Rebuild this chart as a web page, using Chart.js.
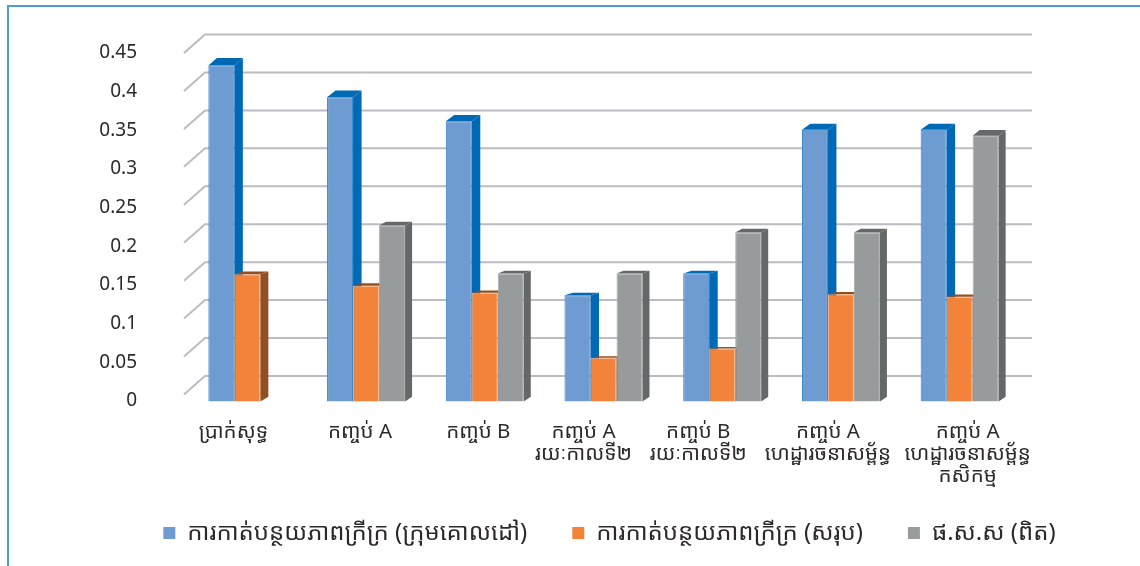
<!DOCTYPE html>
<html>
<head>
<meta charset="utf-8">
<script src="https://cdn.jsdelivr.net/npm/chart.js@4"></script>
<style>
  html, body { margin: 0; padding: 0; background: #fff; }
  #box { width: 1140px; height: 566px; }
</style>
</head>
<body>
<div id="box"><canvas id="chart" width="1140" height="566"></canvas></div>
<script>
const categories = [
    'ប្រាក់សុទ្ធ',
    'កញ្ចប់ A',
    'កញ្ចប់ B',
    ['កញ្ចប់ A', 'រយៈកាលទី២'],
    ['កញ្ចប់ B', 'រយៈកាលទី២'],
    ['កញ្ចប់ A', 'ហេដ្ឋារចនាសម្ព័ន្ធ'],
    ['កញ្ចប់ A', 'ហេដ្ឋារចនាសម្ព័ន្ធ', 'កសិកម្ម']
];
const seriesNames = [
    'ការកាត់បន្ថយភាពក្រីក្រ (ក្រុមគោលដៅ)',
    'ការកាត់បន្ថយភាពក្រីក្រ (សរុប)',
    'ផ.ស.ស (ពិត)'
];
const povertyTarget = [0.43, 0.389, 0.358, 0.133, 0.161, 0.347, 0.347];
const povertyTotal = [0.16, 0.145, 0.136, 0.052, 0.064, 0.134, 0.131];
const gdpReal = [null, 0.223, 0.161, 0.161, 0.214, 0.214, 0.339];
const yTicks = [0, 0.05, 0.1, 0.15, 0.2, 0.25, 0.3, 0.35, 0.4, 0.45];

const FONT = '"Noto Sans Khmer", "Noto Sans", "Open Sans", sans-serif';
const TEXT = '#2b2a29';

// the category labels are not centred under their groups in the original
const labelShift = [-14, -6, -6.5, -20, -24, -13, 8];

// draw one dataset's bars and then their side and top faces
function drawBars(chart, meta) {
    const ctx = chart.ctx;
    const ds = chart.data.datasets[meta.index];
    meta.controller.draw();
    ctx.save();
    meta.data.forEach((bar, i) => {
        if (ds.data[i] === null) return;
        const right = bar.x + bar.width / 2;
        const left = bar.x - bar.width / 2;
        const dx = ds.depth;
        const dyTop = Math.max(1.5, (400 - bar.y) * 0.022);
        const dyBase = 4.7;
        ctx.fillStyle = ds.sideColor;
        ctx.beginPath();
        ctx.moveTo(right, bar.y);
        ctx.lineTo(right + dx, bar.y - dyTop);
        ctx.lineTo(right + dx, bar.base - dyBase);
        ctx.lineTo(right, bar.base);
        ctx.closePath();
        ctx.fill();
        ctx.beginPath();
        ctx.moveTo(left, bar.y);
        ctx.lineTo(left + dx, bar.y - dyTop);
        ctx.lineTo(right + dx, bar.y - dyTop);
        ctx.lineTo(right, bar.y);
        ctx.closePath();
        ctx.fill();
    });
    ctx.restore();
}

const depthPlugin = {
    id: 'depth',
    afterLayout(chart) {
        // legend is centred further right than the plot
        chart.legend.left += 100;
        chart.legend.right += 100;
        // labels get clipped to the axis box, the three line one needs more room
        chart.scales.x.bottom += 30;
    },
    beforeDraw(chart) {
        const ctx = chart.ctx;
        chart.scales.x.getLabelItems().forEach((item, i) => {
            item.options.translation[0] += labelShift[i];
        });
        chart.scales.y.getLabelItems().forEach(item => {
            item.options.translation[1] += 3;
        });
        // frame round the figure, only top and left are in the picture
        ctx.save();
        ctx.strokeStyle = '#4f9ad2';
        ctx.lineWidth = 2;
        ctx.beginPath();
        ctx.moveTo(8, 566);
        ctx.lineTo(8, 6);
        ctx.lineTo(1140, 6);
        ctx.stroke();
        ctx.restore();
    },
    beforeDatasetsDraw(chart) {
        const ctx = chart.ctx;
        const area = chart.chartArea;
        const wall = chart.scales.wall;
        ctx.save();
        ctx.lineWidth = 2;
        ctx.strokeStyle = '#bcbcc2';
        yTicks.forEach(v => {
            const back = wall.getPixelForValue(v);
            ctx.beginPath();
            ctx.moveTo(area.left - 4, back + 18.5);
            ctx.lineTo(area.left + 17, back);
            ctx.lineTo(area.right + 13, back);
            ctx.stroke();
        });
        ctx.restore();
    },
    // chart.js paints the first dataset last, here it has to go first
    beforeDatasetDraw() {
        return false;
    },
    afterDatasetsDraw(chart) {
        chart.getSortedVisibleDatasetMetas().forEach(meta => drawBars(chart, meta));
    }
};

const ctx = document.getElementById('chart').getContext('2d');
new Chart(ctx, {
    type: 'bar',
    data: {
        labels: categories,
        datasets: [
            { label: seriesNames[0], data: povertyTarget, backgroundColor: '#6e9bd1', borderColor: '#2a80c4', sideColor: '#0069b5', depth: 8.5 },
            { label: seriesNames[1], data: povertyTotal, backgroundColor: '#f3823a', borderColor: '#f8b88c', sideColor: '#924f22', depth: 8 },
            { label: seriesNames[2], data: gdpReal, backgroundColor: '#989b9b', borderColor: '#a9acac', sideColor: '#646868', depth: 7 }
        ]
    },
    options: {
        responsive: false,
        animation: false,
        layout: { padding: { top: 50, right: 121, bottom: 11, left: 0 } },
        datasets: {
            bar: { base: -0.0045, clip: false, borderWidth: 1, categoryPercentage: 0.657, barPercentage: 1 }
        },
        scales: {
            x: {
                grid: { display: false },
                border: { display: false },
                afterFit(axis) { axis.height = 78; },
                ticks: {
                    maxRotation: 0, minRotation: 0, autoSkip: false,
                    padding: 15,
                    color: TEXT,
                    font: { family: FONT, size: 20.5, lineHeight: 1.07 }
                }
            },
            y: {
                min: 0,
                max: 0.45,
                grid: { display: false },
                border: { display: false },
                afterFit(axis) {
                    axis.width = 188;
                    // tick padding would otherwise push the plot down
                    axis.paddingTop = 0;
                    axis.paddingBottom = 0;
                },
                afterBuildTicks(axis) { axis.ticks = yTicks.map(v => ({ value: v })); },
                ticks: {
                    padding: 43,
                    color: TEXT,
                    callback: v => String(v),
                    font: { family: FONT, size: 19 }
                }
            },
            // hidden scale for the grid on the back wall, it sits higher than the tick labels
            wall: { axis: 'y', display: false, min: -0.029, max: 0.4296 }
        },
        plugins: {
            tooltip: { enabled: false },
            legend: {
                position: 'bottom',
                labels: {
                    boxWidth: 12, boxHeight: 12, padding: 45,
                    color: TEXT,
                    font: { family: FONT, size: 24 },
                    generateLabels(chart) {
                        const items = Chart.defaults.plugins.legend.labels.generateLabels(chart);
                        items.forEach(item => { item.lineWidth = 0; });
                        return items;
                    }
                }
            }
        }
    },
    plugins: [depthPlugin]
});
</script>
</body>
</html>
